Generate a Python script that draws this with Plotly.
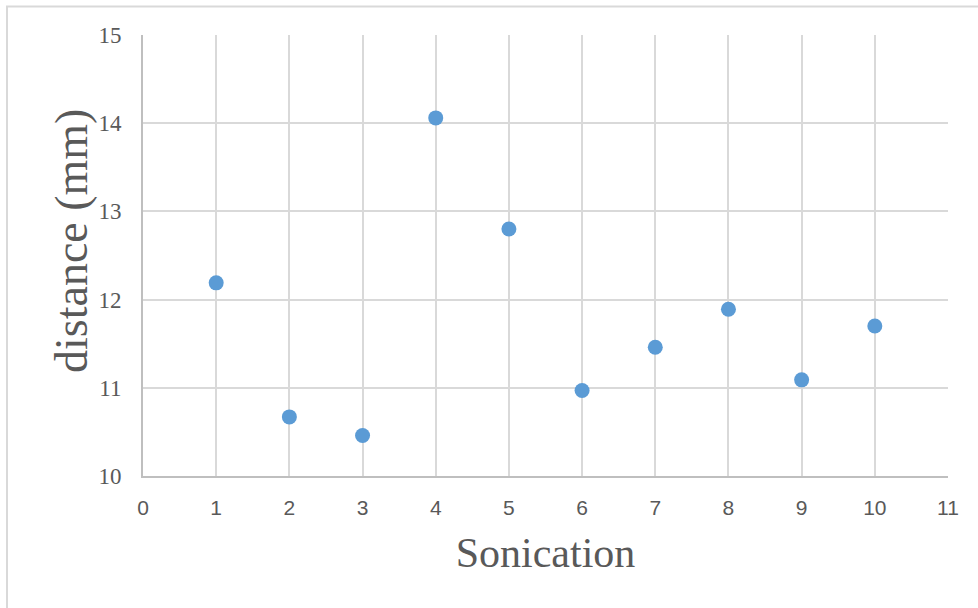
import plotly.graph_objects as go

# Sonication runs and measured distance
sonication = [1, 2, 3, 4, 5, 6, 7, 8, 9, 10]
distance_mm = [12.19, 10.67, 10.46, 14.06, 12.80, 10.97, 11.46, 11.89, 11.09, 11.70]

x_ticks = list(range(0, 12))
y_ticks = [10, 11, 12, 13, 14, 15]

W, H = 978, 608
L, R, T, B = 143, 30, 35, 132

fig = go.Figure()
fig.add_trace(go.Scatter(
    x=sonication, y=distance_mm, mode="markers",
    marker=dict(size=15, color="#5b9bd5", line=dict(width=0)),
    cliponaxis=False, showlegend=False,
))

pw, ph = W - L - R, H - T - B
def px_x(p):
    return (p - L) / pw
def px_y(p):
    return (H - B - p) / ph

# thin frame round the whole chart
fig.add_shape(type="rect", xref="paper", yref="paper",
              x0=px_x(7), x1=px_x(990), y0=px_y(620), y1=px_y(6.5),
              line=dict(color="#d9d9d9", width=2), fillcolor="rgba(0,0,0,0)",
              layer="below")

# vertical axis title, placed as a rotated annotation
fig.add_annotation(text="distance (mm)", xref="paper", yref="paper",
                   x=px_x(71), y=px_y(241), xanchor="center", yanchor="middle",
                   textangle=-90, showarrow=False,
                   font=dict(family="Liberation Serif", size=46, color="#595959"))

fig.update_layout(
    width=W, height=H,
    margin=dict(l=L, r=R, t=T, b=B),
    paper_bgcolor="white", plot_bgcolor="white",
    xaxis=dict(
        range=[0, 11], tickvals=x_ticks, ticktext=[str(v) for v in x_ticks],
        showgrid=True, gridcolor="#d9d9d9", gridwidth=2,
        showline=True, linecolor="#bfbfbf", linewidth=2,
        zeroline=False, ticks="", ticklabelstandoff=12,
        tickfont=dict(family="Liberation Sans", size=21, color="#595959"),
        title=dict(text="Sonication", standoff=19,
                   font=dict(family="Liberation Serif", size=42, color="#595959")),
    ),
    yaxis=dict(
        range=[10, 15], tickvals=y_ticks, ticktext=[str(v) for v in y_ticks],
        showgrid=True, gridcolor="#d9d9d9", gridwidth=2,
        showline=True, linecolor="#bfbfbf", linewidth=2,
        zeroline=False, ticks="", ticklabelstandoff=15,
        tickfont=dict(family="Liberation Serif", size=23, color="#595959"),
    ),
)

fig.write_html("out.html")
